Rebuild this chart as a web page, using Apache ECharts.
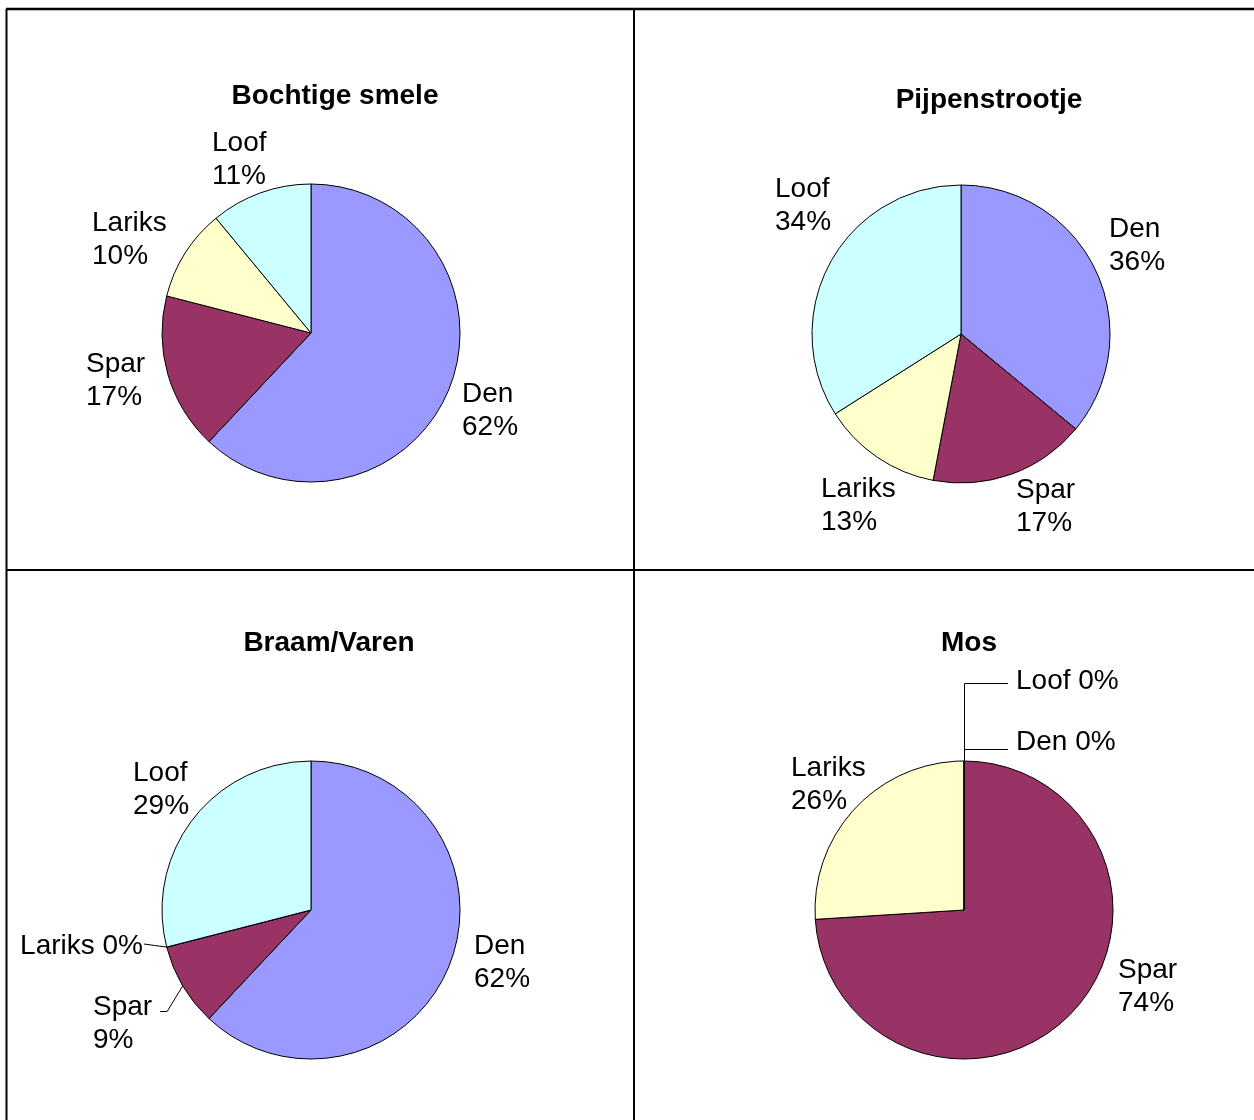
<!DOCTYPE html>
<html>
<head>
<meta charset="utf-8">
<script src="https://cdn.jsdelivr.net/npm/echarts@6/dist/echarts.min.js"></script>
<style>
  html, body { margin: 0; padding: 0; background: #fff; }
  #chart { width: 1254px; height: 1120px; }
</style>
</head>
<body>
<div id="chart"></div>
<script>
// Share of tree species per undergrowth type
const categories = ['Den', 'Spar', 'Lariks', 'Loof'];
const chartTitles = ['Bochtige smele', 'Pijpenstrootje', 'Braam/Varen', 'Mos'];
const bochtigeSmele = [62, 17, 10, 11];
const pijpenstrootje = [36, 17, 13, 34];
const braamVaren = [62, 9, 0, 29];
const mos = [0, 74, 26, 0];

const seriesValues = [bochtigeSmele, pijpenstrootje, braamVaren, mos];
const sliceColors = ['#9999FF', '#993366', '#FFFFCC', '#CCFFFF'];
const FONT = '"Liberation Sans", Arial, Helvetica, sans-serif';

// One panel per undergrowth type: pie centre and title anchor (px)
const panels = [
  { center: [311, 333], title: [335, 94] },
  { center: [961, 334], title: [989, 98] },
  { center: [311, 910], title: [329, 641] },
  { center: [964, 910], title: [969, 641] }
];
const RADIUS = 149;
// canvas 'middle' sits slightly above the optical centre of the glyphs
const TEXT_DROP = 2;

// Data label anchors relative to the pie centre: [x, middle y].
// x is the left edge of the text block, or its right edge when alignRight is set.
const labelPlacement = [
  [{ at: [151, 76] }, { at: [-225, 46] }, { at: [-219, -95] }, { at: [-99, -175] }],
  [{ at: [148, -90] }, { at: [55, 171] }, { at: [-140, 170] }, { at: [-186, -130] }],
  [{ at: [163, 51] },
   { at: [-218, 112], leader: 'bent' },
   { at: [-168, 34], inline: true, alignRight: true, leader: 'straight' },
   { at: [-178, -122] }],
  [{ at: [52, -170], inline: true, leader: 'elbow', rise: 9 },
   { at: [154, 75] },
   { at: [-173, -127] },
   { at: [52, -231], inline: true, leader: 'elbow', rise: 4 }]
];

// Point on the rim at the middle of a slice (clockwise from 12 o'clock)
function rimPoint(si, di) {
  const vals = seriesValues[si];
  const total = vals.reduce((a, b) => a + b, 0);
  let before = 0;
  for (let i = 0; i < di; i++) before += vals[i];
  const a = (before + vals[di] / 2) / total * Math.PI * 2;
  const [cx, cy] = panels[si].center;
  return [cx + RADIUS * Math.sin(a), cy - RADIUS * Math.cos(a)];
}

// snap to pixel centres so 1px leader lines stay crisp
const crisp = (v) => Math.round(v) + 0.5;

function makeLabelLayout(si) {
  return function (params) {
    const p = labelPlacement[si][params.dataIndex];
    const [cx, cy] = panels[si].center;
    const x = cx + p.at[0];
    const y = cy + p.at[1];
    const out = { x: x, y: y + TEXT_DROP, align: p.alignRight ? 'right' : 'left', verticalAlign: 'middle' };
    if (p.leader) {
      const e = rimPoint(si, params.dataIndex);
      const w = params.labelRect.width;
      let pts;
      if (p.leader === 'elbow') {
        const ly = crisp(y + p.rise);
        const ex = crisp(e[0]);
        pts = [[ex, e[1]], [ex, ly], [x - 8, ly]];
      } else if (p.leader === 'straight') {
        pts = [e, [(e[0] + x) / 2, (e[1] + y) / 2], [x + 1, y]];
      } else {
        const right = x + w;
        const ly = crisp(y - 11);
        pts = [e, [right + 15, ly], [right + 8, ly]];
      }
      out.labelLinePoints = pts;
    }
    return out;
  };
}

const series = seriesValues.map((vals, si) => ({
  type: 'pie',
  center: panels[si].center,
  radius: RADIUS,
  startAngle: 90,
  clockwise: true,
  avoidLabelOverlap: false,
  animation: false,
  silent: true,
  itemStyle: { borderColor: '#000', borderWidth: 1 },
  label: {
    show: true,
    position: 'outside',
    color: '#000',
    fontFamily: FONT,
    fontSize: 28,
    lineHeight: 33,
    formatter: (prm) => {
      const p = labelPlacement[si][prm.dataIndex];
      const pct = Math.round(prm.percent) + '%';
      return p.inline ? prm.name + ' ' + pct : prm.name + '\n' + pct;
    }
  },
  labelLine: { show: false, lineStyle: { color: '#000', width: 1, opacity: 1 } },
  labelLayout: makeLabelLayout(si),
  data: vals.map((v, di) => ({
    name: categories[di],
    value: v,
    itemStyle: { color: sliceColors[di] },
    labelLine: labelPlacement[si][di].leader
      ? { show: true, length: 5, length2: 5, lineStyle: { color: '#000', width: 1, opacity: 1 } }
      : { show: false }
  }))
}));

// Panel frame lines and titles
const frame = [
  [6, 9, 1254, 9, 2.5],
  [6.5, 9, 6.5, 1120, 2],
  [634, 9, 634, 1120, 2],
  [6, 570, 1254, 570, 2]
].map(([x1, y1, x2, y2, lw]) => ({
  type: 'line',
  silent: true,
  shape: { x1, y1, x2, y2 },
  style: { stroke: '#000', lineWidth: lw }
}));

const titles = chartTitles.map((t, i) => ({
  type: 'text',
  silent: true,
  x: panels[i].title[0],
  y: panels[i].title[1] + TEXT_DROP,
  style: {
    text: t,
    fill: '#000',
    fontFamily: FONT,
    fontSize: 28,
    fontWeight: 'bold',
    align: 'center',
    verticalAlign: 'middle'
  }
}));

const chart = echarts.init(document.getElementById('chart'), null, { renderer: 'canvas' });
chart.setOption({
  backgroundColor: '#fff',
  animation: false,
  graphic: frame.concat(titles),
  series: series
});
</script>
</body>
</html>
